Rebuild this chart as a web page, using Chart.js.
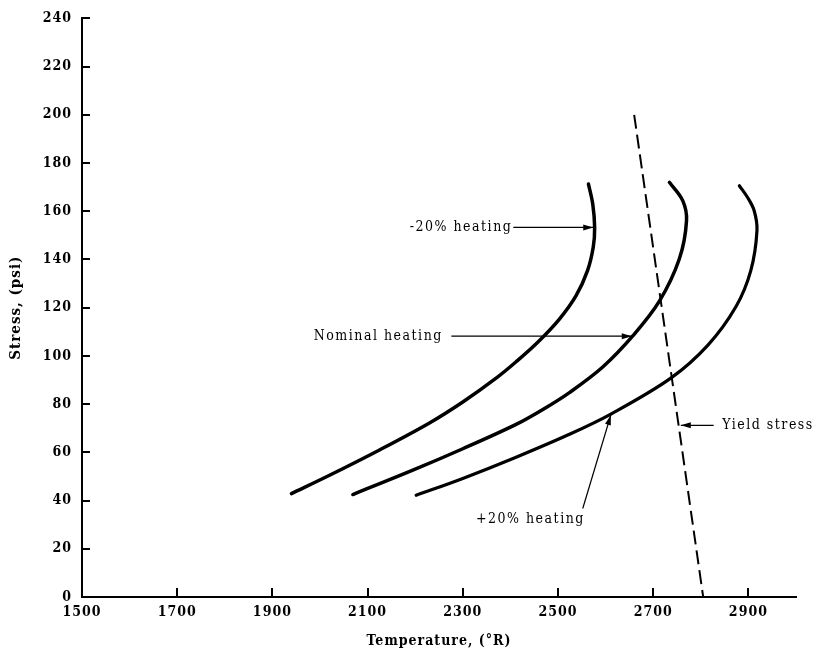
<!DOCTYPE html>
<html><head><meta charset="utf-8">
<script src="https://cdn.jsdelivr.net/npm/chart.js@4.4.1/dist/chart.umd.min.js"></script>
<style>html,body{margin:0;padding:0;background:#fff;}</style>
</head><body>
<canvas id="c" width="826" height="659" style="width:826px;height:659px;display:block"></canvas>
<script>
// ---- data ----
const xTickValues = [1500, 1700, 1900, 2100, 2300, 2500, 2700, 2900];
const yTickValues = [0, 20, 40, 60, 80, 100, 120, 140, 160, 180, 200, 220, 240];

const minus20Temp   = [1940, 2020, 2125, 2230, 2300, 2370, 2412, 2458, 2503, 2538, 2562, 2574, 2577, 2573, 2564];
const minus20Stress = [42.9, 50.5, 61, 72.2, 80.9, 90.8, 97.6, 105.8, 115.3, 125, 135.4, 145.1, 153.3, 163, 171.3];

const nominalTemp   = [2069, 2195, 2300, 2412, 2470, 2524, 2594, 2658, 2713, 2755, 2770, 2762, 2734];
const nominalStress = [42.5, 52.6, 61.5, 71.6, 78, 84.8, 95.4, 108.5, 122.7, 140.3, 156.1, 164.4, 172];

const plus20Temp    = [2202, 2300, 2412, 2524, 2612, 2737, 2815, 2874, 2905, 2918, 2912, 2898, 2881];
const plus20Stress  = [42.2, 49.2, 58, 67.5, 76, 90.8, 104.5, 120.5, 135.4, 152, 160.3, 165.8, 170.6];

const yieldTemp     = [2660, 2805];
const yieldStress   = [200, 0];

const seriesNames = ['-20% heating', 'Nominal heating', '+20% heating', 'Yield stress'];

// annotation labels (text + leader arrows, in data units)
const annotations = [
  {text: '-20% heating',    tx: 2404, ty: 153.3, align: 'right',  from: [2406, 153.3], to: [2574, 153.3]},
  {text: 'Nominal heating', tx: 2258, ty: 108.2, align: 'right',  from: [2276, 108.2], to: [2655, 108.2]},
  {text: '+20% heating',    tx: 2442, ty: 32.2,  align: 'center', from: [2552, 36.7],  to: [2611, 75.5]},
  {text: 'Yield stress',    tx: 2845, ty: 71.2,  align: 'left',   from: [2827, 71.2],  to: [2758, 71.2]}
];

const toPts = (xs, ys) => xs.map((x, i) => ({x: x, y: ys[i]}));
const FAM = "'DejaVu Serif Condensed', 'DejaVu Serif', serif";

const spacingPlugin = {
  id: 'spacing',
  beforeDraw(chart) { chart.ctx.letterSpacing = '1px'; }
};

const decoPlugin = {
  id: 'deco',
  afterDraw(chart) {
    const ctx = chart.ctx, xs = chart.scales.x, ys = chart.scales.y;
    const ca = chart.chartArea;
    ctx.save();
    ctx.strokeStyle = '#000';
    ctx.lineWidth = 2;
    ctx.beginPath();
    xs.ticks.forEach(t => {
      if (t.value === xs.min) return;
      const px = Math.round(xs.getPixelForValue(t.value));
      ctx.moveTo(px, ca.bottom); ctx.lineTo(px, ca.bottom - 9);
    });
    ys.ticks.forEach(t => {
      if (t.value === ys.min) return;
      const py = Math.round(ys.getPixelForValue(t.value));
      ctx.moveTo(ca.left, py); ctx.lineTo(ca.left + 8, py);
    });
    ctx.stroke();

    // annotations
    ctx.fillStyle = '#000';
    ctx.letterSpacing = '1.5px';
    ctx.font = "14px " + FAM;
    ctx.textBaseline = 'middle';
    annotations.forEach(a => {
      ctx.textAlign = a.align;
      ctx.fillText(a.text, xs.getPixelForValue(a.tx), ys.getPixelForValue(a.ty));
      const x1 = xs.getPixelForValue(a.from[0]), y1 = ys.getPixelForValue(a.from[1]);
      const x2 = xs.getPixelForValue(a.to[0]),   y2 = ys.getPixelForValue(a.to[1]);
      ctx.lineWidth = 1.2;
      ctx.beginPath(); ctx.moveTo(x1, y1); ctx.lineTo(x2, y2); ctx.stroke();
      const ang = Math.atan2(y2 - y1, x2 - x1), L = 10, W = 3;
      ctx.beginPath();
      ctx.moveTo(x2, y2);
      ctx.lineTo(x2 - L * Math.cos(ang) + W * Math.sin(ang), y2 - L * Math.sin(ang) - W * Math.cos(ang));
      ctx.lineTo(x2 - L * Math.cos(ang) - W * Math.sin(ang), y2 - L * Math.sin(ang) + W * Math.cos(ang));
      ctx.closePath(); ctx.fill();
    });
    ctx.restore();
  }
};

const curve = (label, pts, w) => ({
  label, data: pts, showLine: true, borderColor: '#000', backgroundColor: '#000',
  borderWidth: w, pointRadius: 0, tension: 0.35, borderCapStyle: 'round', fill: false
});

new Chart(document.getElementById('c'), {
  type: 'scatter',
  data: {
    datasets: [
      curve(seriesNames[0], toPts(minus20Temp, minus20Stress), 3.5),
      curve(seriesNames[1], toPts(nominalTemp, nominalStress), 3.5),
      curve(seriesNames[2], toPts(plus20Temp, plus20Stress), 3.2),
      {label: seriesNames[3], data: toPts(yieldTemp, yieldStress), showLine: true,
       borderColor: '#000', borderWidth: 2, borderDash: [14, 6], pointRadius: 0, tension: 0}
    ]
  },
  options: {
    responsive: false, animation: false, devicePixelRatio: 1,
    layout: {padding: {top: 17, right: 30, left: 0, bottom: 0}},
    plugins: {legend: {display: false}, tooltip: {enabled: false}},
    scales: {
      x: {
        type: 'linear', min: 1500, max: 3000,
        afterFit: s => { s.height = 62; },
        afterBuildTicks: s => { s.ticks = xTickValues.map(v => ({value: v})); },
        grid: {display: true, drawOnChartArea: false, drawTicks: false},
        border: {display: true, color: '#000', width: 2},
        ticks: {color: '#000', padding: 7, maxRotation: 0, autoSkip: false,
                callback: v => String(v),
                font: {family: FAM, size: 14, weight: 'bold'}},
        title: {display: true, text: 'Temperature, (°R)', color: '#000',
                font: {family: FAM, size: 14, weight: 'bold'}, padding: {top: 0, bottom: 9}}
      },
      y: {
        type: 'linear', min: 0, max: 240,
        afterFit: s => { s.width = 82; },
        afterBuildTicks: s => { s.ticks = yTickValues.map(v => ({value: v})); },
        grid: {display: true, drawOnChartArea: false, drawTicks: false},
        border: {display: true, color: '#000', width: 2},
        ticks: {color: '#000', padding: 10, autoSkip: false,
                callback: v => String(v),
                font: {family: FAM, size: 14, weight: 'bold'}},
        title: {display: true, text: 'Stress, (psi)', color: '#000',
                font: {family: FAM, size: 15, weight: 'bold'}, padding: {top: 7, bottom: 0}}
      }
    }
  },
  plugins: [spacingPlugin, decoPlugin]
});
</script>
</body></html>
